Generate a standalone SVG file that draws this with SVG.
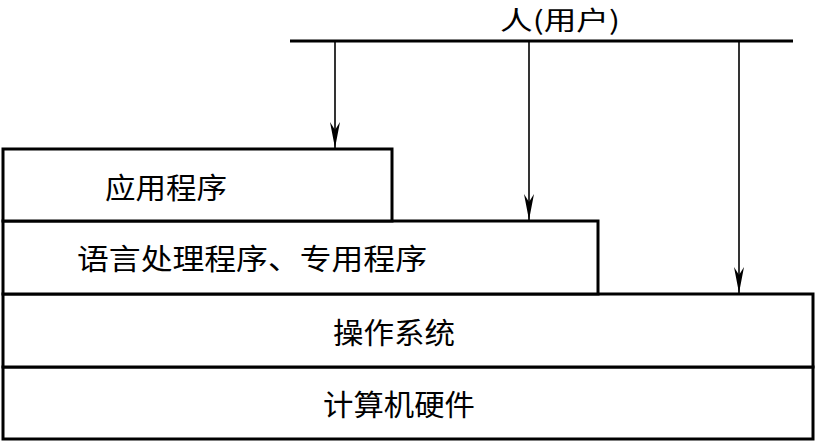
<svg xmlns="http://www.w3.org/2000/svg" width="816" height="442" viewBox="0 0 816 442">
  <style>
    .box { fill: #ffffff; stroke: #000000; stroke-width: 3; }
    .lbl { font-family: "Noto Sans CJK SC", "Noto Sans", sans-serif; font-size: 29px; fill: #000000; text-anchor: middle; dominant-baseline: central; }
    .top { font-size: 26px; }
    .conn { stroke: #000000; stroke-width: 1.6; fill: none; }
    .bar { stroke: #000000; stroke-width: 3; fill: none; }
  </style>
  <defs>
    <marker id="arrow" markerUnits="userSpaceOnUse" viewBox="0 -5 26 10" markerWidth="26" markerHeight="10" refX="26" refY="0" orient="auto">
      <path d="M26,0 L0,-5 L8,0 L0,5 Z" fill="#000000"/>
    </marker>
  </defs>
  <rect width="816" height="442" fill="#ffffff"/>

  <g id="user">
    <text class="lbl top" x="560" y="18" textLength="120" lengthAdjust="spacingAndGlyphs">人(用户)</text>
    <line class="bar" x1="290" y1="41" x2="793" y2="41"/>
  </g>

  <g id="hardware">
    <rect class="box" x="3" y="367" width="810" height="72"/>
    <text class="lbl" x="399" y="403" textLength="152" lengthAdjust="spacingAndGlyphs">计算机硬件</text>
  </g>
  <g id="os">
    <rect class="box" x="3" y="294" width="810" height="73"/>
    <text class="lbl" x="394" y="331" textLength="122" lengthAdjust="spacingAndGlyphs">操作系统</text>
  </g>
  <g id="langproc">
    <rect class="box" x="3" y="221" width="595" height="73"/>
    <text class="lbl" x="252" y="257" textLength="350" lengthAdjust="spacingAndGlyphs">语言处理程序、专用程序</text>
  </g>
  <g id="app">
    <rect class="box" x="3" y="149" width="389" height="72"/>
    <text class="lbl" x="166" y="186" textLength="122" lengthAdjust="spacingAndGlyphs">应用程序</text>
  </g>

  <g id="connectors">
    <line class="conn" x1="335" y1="42" x2="335" y2="148" marker-end="url(#arrow)"/>
    <line class="conn" x1="529" y1="42" x2="529" y2="220" marker-end="url(#arrow)"/>
    <line class="conn" x1="739" y1="42" x2="739" y2="293" marker-end="url(#arrow)"/>
  </g>
</svg>
